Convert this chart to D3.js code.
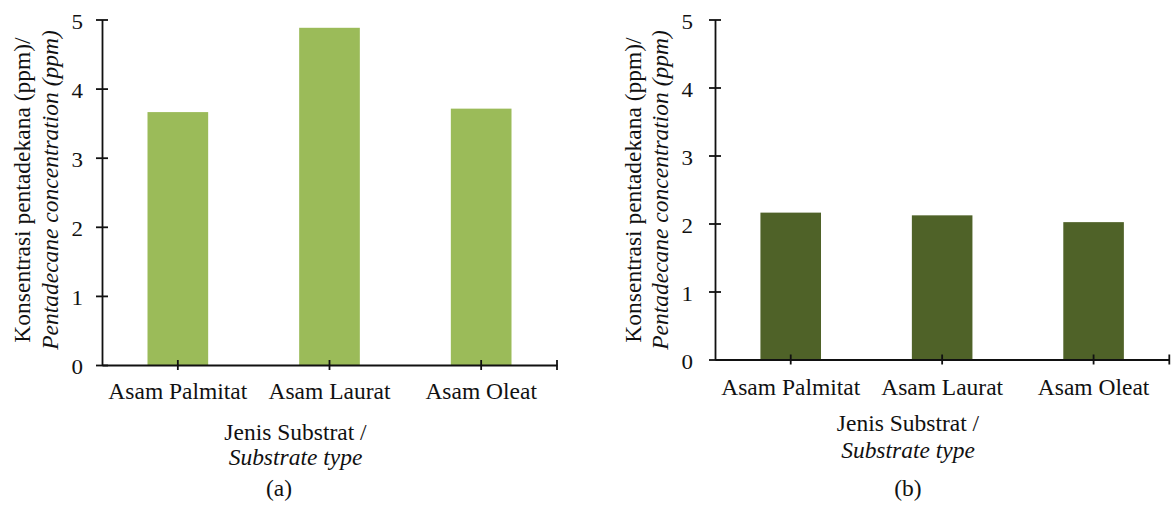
<!DOCTYPE html>
<html>
<head>
<meta charset="utf-8">
<script src="https://cdn.jsdelivr.net/npm/d3@7"></script>
<style>
  html, body { margin: 0; padding: 0; background: #ffffff; }
  svg { display: block; }
  text { font-family: "Liberation Serif", "Times New Roman", serif; fill: #111111; }
</style>
</head>
<body>
<svg id="chart" width="1171" height="507"></svg>
<script>
// Substrate categories shared by both panels
const categories = ["Asam Palmitat", "Asam Laurat", "Asam Oleat"];

// Pentadecane concentration (ppm) per substrate
const valuesA = [3.66, 4.88, 3.71];
const valuesB = [2.16, 2.12, 2.02];

// Y tick values
const yTicks = [0, 1, 2, 3, 4, 5];

// Axis titles and panel captions
const yTitleLine1 = "Konsentrasi pentadekana (ppm)/";
const yTitleLine2 = "Pentadecane concentration (ppm)";
const xTitleLine1 = "Jenis Substrat /";
const xTitleLine2 = "Substrate type";
const captions = ["(a)", "(b)"];

const svg = d3.select("#chart");
const GLYPH_Y = 0.94; // glyphs are slightly flattened

function label(g, txt, x, y, opts = {}) {
  const t = g.append("g")
    .attr("transform", `translate(${x},${y}) rotate(${opts.rotate || 0}) scale(1,${opts.sy || GLYPH_Y})`)
    .append("text")
    .attr("text-anchor", opts.anchor || "middle")
    .attr("font-size", opts.size || 23.5)
    .text(txt);
  if (opts.italic) t.attr("font-style", "italic");
  return t;
}

const panels = [
  {
    values: valuesA, color: "#9BBB59",
    left: 102, right: 557, top: 19.5, bottom: 365,
    tickRight: 83, catBase: 399,
    yTitleX1: 29.5, yTitleX2: 57.5, yTitleCy: 190,
    xTitleCx: 295.5, xTitleBase: [440, 465], capCx: 279, capBase: 496,
    caption: captions[0]
  },
  {
    values: valuesB, color: "#4F6228",
    left: 715, right: 1169.3, top: 19.5, bottom: 359.5,
    tickRight: 693, catBase: 395,
    yTitleX1: 640.5, yTitleX2: 668, yTitleCy: 190,
    xTitleCx: 908, xTitleBase: [431, 458], capCx: 908, capBase: 496,
    caption: captions[1]
  }
];

panels.forEach(p => {
  const g = svg.append("g");

  const x = d3.scaleBand()
    .domain(categories)
    .range([p.left, p.right])
    .paddingInner(0).paddingOuter(0);

  const y = d3.scaleLinear()
    .domain([0, 5])
    .range([p.bottom, p.top]);

  const barW = x.bandwidth() * 0.4;

  // Bars
  g.selectAll("rect.bar")
    .data(categories.map((c, i) => ({ c, v: p.values[i] })))
    .enter().append("rect")
    .attr("class", "bar")
    .attr("x", d => x(d.c) + (x.bandwidth() - barW) / 2)
    .attr("width", barW)
    .attr("y", d => y(d.v))
    .attr("height", d => y(0) - y(d.v))
    .attr("fill", p.color);

  const axisStroke = "#111";
  const sw = 1.8;

  // Y axis: line with ticks crossing it
  const yAxis = d3.axisLeft(y).tickValues(yTicks).tickSize(6).tickSizeOuter(0).tickFormat("");
  const ya = g.append("g").attr("transform", `translate(${p.left},0)`).call(yAxis);
  ya.select(".domain").attr("stroke", axisStroke).attr("stroke-width", sw);
  ya.selectAll(".tick line").attr("x1", 6).attr("x2", -6).attr("stroke", axisStroke).attr("stroke-width", sw);

  // Y tick labels
  yTicks.forEach(t => {
    label(g, String(t), p.tickRight, y(t) + 9, { anchor: "end", size: 23, sy: 0.88 });
  });

  // X axis: line with ticks at category centres and at the far end
  const xAxis = d3.axisBottom(x).tickSize(5).tickSizeOuter(0).tickFormat("");
  const xa = g.append("g").attr("transform", `translate(0,${y(0)})`).call(xAxis);
  xa.select(".domain").attr("stroke", axisStroke).attr("stroke-width", sw);
  xa.selectAll(".tick line").attr("y1", -5).attr("y2", 5).attr("stroke", axisStroke).attr("stroke-width", sw);
  g.append("line")
    .attr("x1", p.right).attr("x2", p.right)
    .attr("y1", y(0) - 5).attr("y2", y(0) + 5)
    .attr("stroke", axisStroke).attr("stroke-width", sw);

  // Category labels
  categories.forEach(c => {
    label(g, c, x(c) + x.bandwidth() / 2, p.catBase);
  });

  // Y axis title (two lines, rotated)
  label(g, yTitleLine1, p.yTitleX1, p.yTitleCy, { rotate: -90 });
  label(g, yTitleLine2, p.yTitleX2, p.yTitleCy, { rotate: -90, italic: true });

  // X axis title and caption
  label(g, xTitleLine1, p.xTitleCx, p.xTitleBase[0]);
  label(g, xTitleLine2, p.xTitleCx, p.xTitleBase[1], { italic: true });
  label(g, p.caption, p.capCx, p.capBase);
});
</script>
</body>
</html>
